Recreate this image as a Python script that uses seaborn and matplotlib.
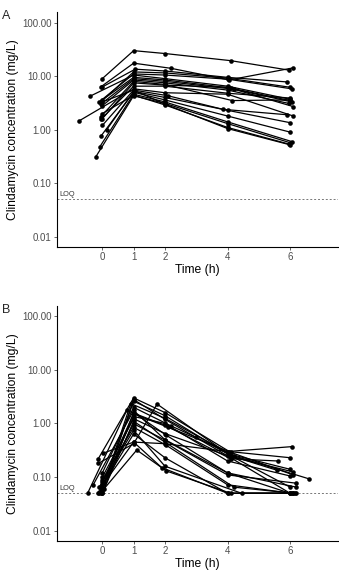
import matplotlib
matplotlib.use("Agg")
import matplotlib.pyplot as plt
import matplotlib.ticker as mticker
import numpy as np
import pandas as pd
import seaborn as sns

sns.set_style("ticks")
plt.rcParams["font.family"] = ["Liberation Sans", "DejaVu Sans"]

LOQ = 0.05
x_ticks = [0, 1, 2, 4, 6]
y_ticks = [0.01, 0.1, 1, 10, 100]
y_tick_labels = ["0.01", "0.10", "1.00", "10.00", "100.00"]

# Panel A: sampling times (h) and concentrations (mg/L) per subject
a_times = [
    [0.00, 1.00, 2.00, 4.10, 5.95],
    [-0.05, 1.00, 2.20, 4.05, 6.10],
    [-0.02, 1.05, 2.00, 4.00, 5.90],
    [0.00, 1.00, 2.00, 4.00, 6.00],
    [-0.10, 1.00, 2.00, 4.00, 6.05],
    [-0.40, 1.00, 2.00, 4.00, 6.00],
    [0.00, 1.00, 2.00, 4.10, 6.00],
    [-0.05, 1.00, 2.00, 4.20, 6.05],
    [0.00, 1.00, 2.00, 4.00, 5.95],
    [-0.05, 1.00, 2.00, 4.15, 6.00],
    [0.00, 1.00, 2.00, 4.00, 6.10],
    [-0.05, 1.00, 2.00, 4.00, 6.00],
    [-0.75, 1.00, 2.00, 4.00, 6.10],
    [0.00, 1.00, 2.10, 3.85, 5.90],
    [0.14, 1.00, 2.00, 4.00, 6.00],
    [-0.05, 1.00, 2.00, 4.00, 6.00],
    [-0.08, 1.00, 2.00, 4.00, 6.05],
    [-0.21, 1.00, 2.00, 4.00, 6.00],
    [0.00, 1.00, 2.00, 4.00, 5.95],
    [0.00, 1.00, 2.00, 4.00, 6.00],
]
a_conc = [
    [9.0, 30.0, 26.5, 19.5, 13.0],
    [6.3, 17.5, 14.0, 8.5, 14.3],
    [6.2, 13.5, 12.5, 9.5, 7.8],
    [3.5, 12.0, 11.5, 9.2, 6.2],
    [3.3, 11.0, 10.5, 8.8, 5.8],
    [4.2, 10.5, 9.0, 6.5, 3.7],
    [3.6, 9.5, 8.5, 6.0, 3.5],
    [3.0, 9.0, 8.0, 5.7, 3.3],
    [2.8, 8.5, 7.5, 5.5, 3.1],
    [1.75, 8.0, 7.0, 3.5, 3.6],
    [1.6, 7.5, 6.8, 6.2, 2.7],
    [1.55, 6.5, 6.5, 4.8, 3.9],
    [1.45, 5.8, 4.9, 4.6, 1.8],
    [1.2, 5.5, 4.3, 2.4, 1.9],
    [1.0, 5.2, 4.0, 2.3, 1.35],
    [0.75, 5.0, 3.6, 1.8, 0.9],
    [0.48, 4.6, 3.3, 1.4, 0.6],
    [0.31, 4.3, 3.1, 1.3, 0.57],
    [2.0, 4.4, 2.9, 1.1, 0.54],
    [3.3, 5.5, 3.0, 1.05, 0.52],
]

# Panel B: sampling times (h) and concentrations (mg/L) per subject
b_times = [
    [-0.13, 1.00, 2.00, 4.10, 6.10],
    [-0.05, 1.00, 2.00, 4.00, 6.00],
    [0.00, 0.91, 2.00, 4.20, 6.60],
    [-0.47, 0.78, 2.00, 4.10, 5.60],
    [-0.29, 1.00, 2.00, 4.00, 6.00],
    [0.00, 1.00, 2.10, 4.05, 6.00],
    [-0.13, 1.00, 1.75, 4.10, 5.57],
    [0.03, 1.00, 2.00, 4.00, 6.05],
    [0.00, 1.00, 2.00, 4.00, 6.10],
    [-0.10, 1.00, 2.00, 4.00, 6.20],
    [0.00, 1.00, 2.05, 4.00, 6.05],
    [-0.15, 1.00, 2.00, 4.00, 6.10],
    [0.00, 1.00, 1.90, 4.00, 6.00],
    [0.05, 1.10, 2.05, 4.10, 6.20],
    [0.00, 1.00, 2.20, 3.00, 4.05, 6.00],
    [0.00, 1.00, 2.00, 4.20, 6.10],
    [0.05, 1.00, 2.00, 4.00, 6.00],
    [-0.10, 1.00, 2.00, 4.45, 6.15],
    [0.00, 1.00, 2.00, 4.10, 6.00],
    [0.00, 1.00, 2.05, 4.00, 6.20],
]
b_conc = [
    [0.22, 3.0, 1.6, 0.29, 0.11],
    [0.05, 2.6, 1.4, 0.27, 0.065],
    [0.06, 2.35, 1.25, 0.25, 0.093],
    [0.05, 1.75, 0.93, 0.22, 0.2],
    [0.072, 1.75, 0.5, 0.12, 0.05],
    [0.08, 1.52, 0.85, 0.3, 0.23],
    [0.18, 0.42, 2.3, 0.25, 0.135],
    [0.28, 0.45, 0.42, 0.3, 0.37],
    [0.1, 1.23, 0.65, 0.25, 0.125],
    [0.05, 0.99, 0.49, 0.11, 0.077],
    [0.09, 0.85, 0.39, 0.072, 0.05],
    [0.05, 0.64, 0.23, 0.05, 0.05],
    [0.07, 0.45, 0.15, 0.05, 0.05],
    [0.06, 0.32, 0.13, 0.05, 0.05],
    [0.12, 2.0, 0.9, 0.55, 0.27, 0.14],
    [0.05, 1.1, 0.45, 0.065, 0.05],
    [0.08, 1.35, 1.0, 0.2, 0.105],
    [0.065, 0.75, 0.16, 0.05, 0.05],
    [0.055, 2.8, 1.2, 0.23, 0.05],
    [0.05, 1.6, 0.6, 0.12, 0.065],
]


def to_frame(times, conc):
    rows = []
    for sid, (ts, cs) in enumerate(zip(times, conc)):
        for t, c in zip(ts, cs):
            rows.append({"subject": sid, "time": t, "conc": c})
    return pd.DataFrame(rows)


fig = plt.figure(figsize=(3.39, 5.70), dpi=100)
ax_a = fig.add_axes([0.168, 0.567, 0.829, 0.412])
ax_b = fig.add_axes([0.168, 0.051, 0.829, 0.413])

for ax, times, conc, tag in [(ax_a, a_times, a_conc, "A"), (ax_b, b_times, b_conc, "B")]:
    df = to_frame(times, conc)
    sns.lineplot(data=df, x="time", y="conc", units="subject", estimator=None,
                 sort=False, color="black", linewidth=0.9, marker="o",
                 markersize=3.3, markeredgewidth=0, ax=ax)
    ax.axhline(LOQ, color="#777777", linestyle=(0, (2, 2)), linewidth=0.7, zorder=0)
    ax.text(-1.38, LOQ * 1.07, "LOQ", fontsize=5.3, color="#333333",
            ha="left", va="bottom")
    ax.set_yscale("log")
    ax.set_ylim(10 ** -2.19, 10 ** 2.2)
    ax.set_xlim(-1.45, 7.53)
    ax.set_xticks(x_ticks)
    ax.set_xticklabels([str(v) for v in x_ticks])
    ax.yaxis.set_major_locator(mticker.FixedLocator(y_ticks))
    ax.yaxis.set_major_formatter(mticker.FixedFormatter(y_tick_labels))
    ax.yaxis.set_minor_locator(mticker.NullLocator())
    ax.tick_params(axis="both", labelsize=7, colors="#4d4d4d", length=2.5,
                   width=0.6, pad=1.5)
    ax.set_xlabel("Time (h)", fontsize=8.7, color="black", labelpad=1)
    ax.set_ylabel("Clindamycin concentration (mg/L)", fontsize=8.7,
                  color="black", labelpad=2)
    for side in ["top", "right"]:
        ax.spines[side].set_visible(False)
    for side in ["left", "bottom"]:
        ax.spines[side].set_color("black")
        ax.spines[side].set_linewidth(0.8)
    ax.grid(False)
    bbox = ax.get_position()
    fig.text(0.006, bbox.y1 + 0.003, tag, fontsize=9, ha="left", va="top")

fig.savefig("out.png", dpi=100)
